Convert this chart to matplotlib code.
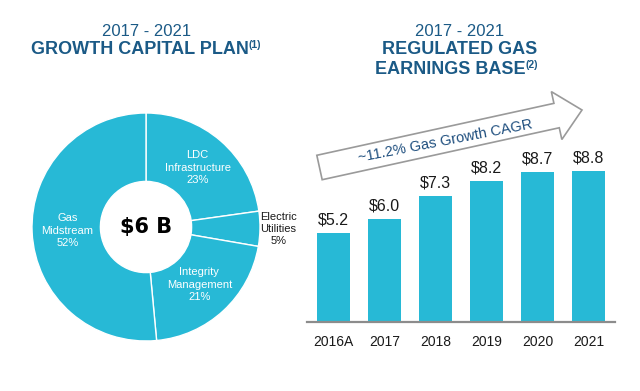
import numpy as np
import matplotlib
matplotlib.use("Agg")
import matplotlib.pyplot as plt
from matplotlib.patches import FancyArrow

# donut data
seg_names = ["LDC\nInfrastructure", "Electric\nUtilities", "Integrity\nManagement", "Gas\nMidstream"]
seg_pct = [23, 5, 21, 52]
total_label = "$6 B"

# bar data
years = ["2016A", "2017", "2018", "2019", "2020", "2021"]
earn_base = [5.2, 6.0, 7.3, 8.2, 8.7, 8.8]
cagr_text = "~11.2% Gas Growth CAGR"

teal = "#27b9d6"
navy = "#1b5a86"
narrow = ["Liberation Sans Narrow", "Liberation Sans", "DejaVu Sans"]
W, H = 640, 391

fig = plt.figure(figsize=(6.4, 3.91), dpi=100)

# ---- donut ----
cx, cy, r = 146, 227, 114
axp = fig.add_axes([(cx - r) / W, (H - cy - r) / H, 2 * r / W, 2 * r / H])
wedges, _ = axp.pie(seg_pct, startangle=90, counterclock=False, colors=[teal] * 4,
                    wedgeprops=dict(width=0.6, edgecolor="white", linewidth=1.0))
axp.set_xlim(-1, 1)
axp.set_ylim(-1, 1)
axp.set_aspect("equal")
for w, name, p in zip(wedges, seg_names, seg_pct):
    mid = np.deg2rad((w.theta1 + w.theta2) / 2)
    if p < 10:
        rr, col = 1.16, "#1a1a1a"
    else:
        rr, col = 0.69, "white"
    axp.text(rr * np.cos(mid), rr * np.sin(mid), f"{name}\n{p}%", ha="center", va="center",
             color=col, fontsize=8, family=narrow, linespacing=1.3)
axp.text(0, 0, total_label, ha="center", va="center", fontsize=15, fontweight="bold",
         family="DejaVu Sans", color="black")

# ---- bars ----
axb = fig.add_axes([307 / W, 69 / H, 308 / W, 172 / H])
x = np.arange(len(years))
bars = axb.bar(x, earn_base, width=0.65, color=teal)
axb.bar_label(bars, labels=[f"${v:.1f}" for v in earn_base], padding=4,
              fontsize=11.5, family=narrow, color="#1a1a1a")
axb.set_xlim(-0.52, len(years) - 0.48)
axb.set_ylim(0, 10)
axb.set_xticks(x)
axb.set_xticklabels(years, fontsize=10, family=narrow, color="#1a1a1a")
axb.tick_params(axis="x", length=0, pad=9)
axb.set_yticks([])
for s in ["left", "right", "top"]:
    axb.spines[s].set_visible(False)
axb.spines["bottom"].set_color("#8c8c8c")
axb.spines["bottom"].set_linewidth(1.6)
axb.patch.set_alpha(0)

# ---- overlay: titles and arrow (pixel coords) ----
ov = fig.add_axes([0, 0, 1, 1])
ov.set_xlim(0, W)
ov.set_ylim(H, 0)
ov.axis("off")

def title(xc, y, txt, sup=None):
    t = ov.text(xc, y, txt, ha="center", va="center", fontsize=13, fontweight="bold",
                family="Liberation Sans", color=navy)
    if sup:
        ov.annotate(sup, xy=(1.0, 1.08), xycoords=t, ha="left", va="top", fontsize=7.5,
                    fontweight="bold", family="Liberation Sans", color=navy)
    return t

ov.text(147, 31, "2017 - 2021", ha="center", va="center", fontsize=12,
        family="Liberation Sans", color=navy)
title(140, 50, "GROWTH CAPITAL PLAN", "(1)")
ov.text(460, 31, "2017 - 2021", ha="center", va="center", fontsize=12,
        family="Liberation Sans", color=navy)
title(460, 50, "REGULATED GAS")
title(450, 70, "EARNINGS BASE", "(2)")

arr = FancyArrow(319.5, 167.5, 262.5, -57.5, width=25, head_width=49, head_length=26,
                 length_includes_head=True, facecolor="white", edgecolor="#9a9a9a", linewidth=1.2)
ov.add_patch(arr)
ov.text(445, 141, cagr_text, ha="center", va="center", rotation=11, rotation_mode="anchor",
        fontsize=10.5, family="Liberation Sans", color="#1f4f7f")

fig.savefig("out.png", dpi=100)
